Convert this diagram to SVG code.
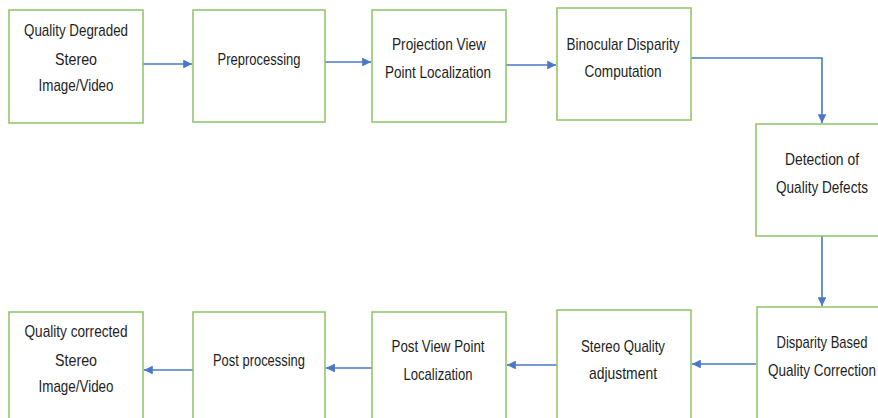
<svg xmlns="http://www.w3.org/2000/svg" width="878" height="418" viewBox="0 0 878 418">
<style>
.box{fill:#fff;stroke:#8dc266;stroke-width:1.5}
.t{font-family:"Liberation Sans",Arial,sans-serif;font-size:17px;fill:#1e1e1e;text-anchor:middle}
.c{fill:none;stroke:#4a78c8;stroke-width:1.6}
</style>
<defs>
<marker id="ah" viewBox="0 0 10 10" refX="10" refY="5" markerWidth="5.5" markerHeight="5.5" orient="auto" markerUnits="strokeWidth">
<path d="M0,0 L10,5 L0,10 z" fill="#4a78c8"/>
</marker>
</defs>
<rect width="878" height="418" fill="#fff"/>
<g id="connectors">
<path class="c" d="M143,64 H192" marker-end="url(#ah)"/>
<path class="c" d="M325,62 H371" marker-end="url(#ah)"/>
<path class="c" d="M506,65 H556" marker-end="url(#ah)"/>
<path class="c" d="M691,58 H822 V123" marker-end="url(#ah)"/>
<path class="c" d="M822,236 V306" marker-end="url(#ah)"/>
<path class="c" d="M756,364 H692" marker-end="url(#ah)"/>
<path class="c" d="M557,365 H507" marker-end="url(#ah)"/>
<path class="c" d="M372,368 H326" marker-end="url(#ah)"/>
<path class="c" d="M193,370 H144" marker-end="url(#ah)"/>
</g>
<g id="n1"><rect class="box" x="9" y="10" width="134" height="113"/>
<text class="t" x="76" y="36" textLength="104" lengthAdjust="spacingAndGlyphs">Quality Degraded</text>
<text class="t" x="76" y="65" textLength="42" lengthAdjust="spacingAndGlyphs">Stereo</text>
<text class="t" x="76" y="91" textLength="75" lengthAdjust="spacingAndGlyphs">Image/Video</text></g>
<g id="n2"><rect class="box" x="193" y="10" width="132" height="112"/>
<text class="t" x="259" y="65" textLength="83" lengthAdjust="spacingAndGlyphs">Preprocessing</text></g>
<g id="n3"><rect class="box" x="372" y="10" width="134" height="112"/>
<text class="t" x="439" y="50" textLength="94" lengthAdjust="spacingAndGlyphs">Projection View</text>
<text class="t" x="438" y="78" textLength="106" lengthAdjust="spacingAndGlyphs">Point Localization</text></g>
<g id="n4"><rect class="box" x="557" y="8" width="134" height="112"/>
<text class="t" x="623" y="50" textLength="113" lengthAdjust="spacingAndGlyphs">Binocular Disparity</text>
<text class="t" x="623" y="77" textLength="77" lengthAdjust="spacingAndGlyphs">Computation</text></g>
<g id="n5"><rect class="box" x="756" y="124" width="130" height="112"/>
<text class="t" x="822" y="165" textLength="74" lengthAdjust="spacingAndGlyphs">Detection of</text>
<text class="t" x="822" y="193" textLength="92" lengthAdjust="spacingAndGlyphs">Quality Defects</text></g>
<g id="n6"><rect class="box" x="757" y="307" width="130" height="120"/>
<text class="t" x="822" y="348" textLength="91" lengthAdjust="spacingAndGlyphs">Disparity Based</text>
<text class="t" x="822" y="376" textLength="108" lengthAdjust="spacingAndGlyphs">Quality Correction</text></g>
<g id="n7"><rect class="box" x="557" y="310" width="134" height="120"/>
<text class="t" x="623" y="352" textLength="84" lengthAdjust="spacingAndGlyphs">Stereo Quality</text>
<text class="t" x="623" y="379" textLength="68" lengthAdjust="spacingAndGlyphs">adjustment</text></g>
<g id="n8"><rect class="box" x="372" y="312" width="134" height="120"/>
<text class="t" x="438" y="352" textLength="93" lengthAdjust="spacingAndGlyphs">Post View Point</text>
<text class="t" x="438" y="380" textLength="69" lengthAdjust="spacingAndGlyphs">Localization</text></g>
<g id="n9"><rect class="box" x="193" y="312" width="132" height="120"/>
<text class="t" x="259" y="366" textLength="92" lengthAdjust="spacingAndGlyphs">Post processing</text></g>
<g id="n10"><rect class="box" x="9" y="312" width="134" height="120"/>
<text class="t" x="76" y="337" textLength="103" lengthAdjust="spacingAndGlyphs">Quality corrected</text>
<text class="t" x="76" y="366" textLength="42" lengthAdjust="spacingAndGlyphs">Stereo</text>
<text class="t" x="76" y="392" textLength="75" lengthAdjust="spacingAndGlyphs">Image/Video</text></g>
</svg>
